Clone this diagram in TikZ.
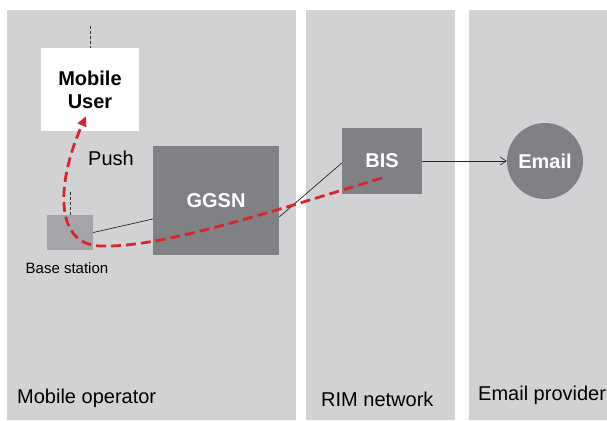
\documentclass[tikz,border=0pt]{standalone}
\usepackage{fontspec}
\setmainfont{Liberation Sans}
\usepackage{tikz}
\usetikzlibrary{arrows.meta}
\definecolor{panelgrey}{HTML}{D1D2D4}
\definecolor{boxgrey}{HTML}{808184}
\definecolor{bsgrey}{HTML}{A7A4A9}
\definecolor{pushred}{HTML}{D7262E}

\begin{document}
\begin{tikzpicture}[x=1pt,y=-1pt,
  greybox/.style={fill=boxgrey, text=white, inner sep=0pt, font=\fontsize{20}{23}\selectfont\bfseries},
  paneltext/.style={font=\fontsize{20}{23}\selectfont, anchor=west, inner sep=0pt}]
\useasboundingbox (0,0) rectangle (607,420);
% draws panels
\fill[panelgrey] (7,10) rectangle (296,420);
\fill[panelgrey] (306,10) rectangle (455,420);
\fill[panelgrey] (469,10) rectangle (607,420);
% draws boxes
\node[fill=white, inner sep=0pt, minimum width=98pt, minimum height=83pt, align=center,
  font=\fontsize{20}{23}\selectfont\bfseries] (user) at (90,89.5) {Mobile\\User};
\node[fill=bsgrey, inner sep=0pt, minimum width=46pt, minimum height=35pt] (bs) at (70,232.5) {};
\node[greybox, minimum width=126pt, minimum height=109pt] (ggsn) at (216,200.5) {GGSN};
\node[greybox, minimum width=80pt, minimum height=66pt] (bis) at (382,161) {BIS};
\node[greybox, circle, minimum size=76pt] (email) at (545,161) {Email};
% labels
\node[font=\fontsize{20}{23}\selectfont] (push) at (111,158) {Push};
\node[font=\fontsize{15}{17}\selectfont] (bslabel) at (67,268) {Base station};
\node[paneltext] (mo) at (17,398) {Mobile operator};
\node[paneltext] (rim) at (321,399) {RIM network};
\node[paneltext] (ep) at (478,395) {Email provider};
% antennas
\coordinate (ua) at (90,26);
\coordinate (ba) at (70,192);
\draw[densely dashed, thin, black!80] (ua) -- (user.north);
\draw[densely dashed, thin, black!80] (ba) -- (bs.north);
% draws links
\draw[black!85, line width=0.7pt] (bs.east) -- ([yshift=-18.5pt]ggsn.west);
\draw[black!85, line width=0.7pt] ([yshift=-16.5pt]ggsn.east) -- ([yshift=-2pt]bis.west);
\draw[black!85, line width=0.7pt, -{Straight Barb[length=6pt,width=8pt]}] (bis.east) -- (email.west);
% push path
\coordinate (pstart) at ([yshift=-17pt]bis.center);
\coordinate (pend) at ([xshift=-4pt,yshift=15pt]user.south);
\draw[pushred, line width=2.8pt, dash pattern=on 10pt off 5pt, -{Triangle[length=10pt,width=9pt]}]
  (pstart) .. controls (260,215) and (160,248) .. (100,246)
  .. controls (52,244) and (58,178) .. (pend);
\end{tikzpicture}
\end{document}
